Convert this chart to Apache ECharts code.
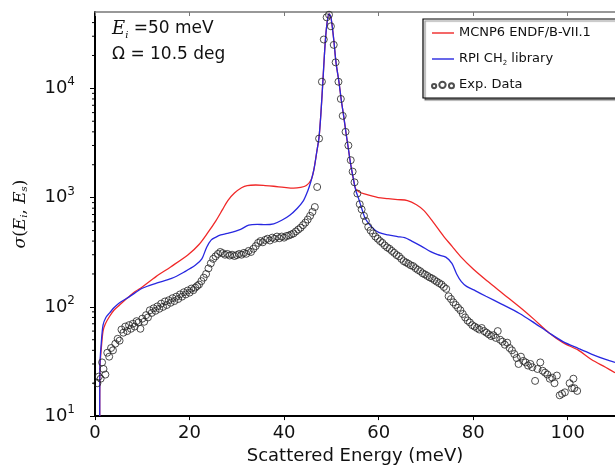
<!DOCTYPE html>
<html>
<head>
<meta charset="utf-8">
<script src="https://cdn.jsdelivr.net/npm/echarts@6/dist/echarts.min.js"></script>
<style>html,body{margin:0;padding:0;background:#fff}#c{width:615px;height:470px}</style>
</head>
<body>
<div id="c"></div>
<script>
// MCNP6 ENDF/B-VII.1 curve [E (meV), sigma]
var mcnpCurve = [[1.0,10],[1.05,28],[1.3,40],[1.7,60],[2.2,70],[3.1,82],[4.0,93],[5.2,104],[6.3,115],[7.3,125],[8.5,138],[10,152],[12.9,189],[16,232],[19.7,300],[22,372],[23.9,480],[25.6,616],[27,780],[28.1,940],[29.5,1100],[31,1230],[32.2,1290],[34,1305],[36,1290],[37.8,1270],[40,1240],[42,1220],[43.5,1240],[44.7,1290],[45.7,1450],[46.3,1800],[46.9,2600],[47.4,3600],[47.8,6000],[48.2,11500],[48.7,26300],[49.1,40000],[49.5,48000],[49.9,45000],[50.5,28000],[51.0,17000],[51.6,11500],[52.1,7800],[52.6,5600],[53.1,3900],[53.6,2800],[54.1,2000],[54.7,1450],[55.1,1210],[55.8,1130],[57,1080],[59.9,1000],[62,980],[64,960],[66.1,940],[68,860],[69.6,760],[71.5,600],[73.8,440],[75.5,360],[77.3,290],[80,222],[83,172],[86.3,132],[90.4,95],[93,76],[96,58],[99,47],[102.3,40],[105,33],[108,28],[110,25]];
// RPI CH2 library curve
var rpiCurve = [[1.0,10],[1.05,30],[1.3,45],[1.7,68],[2.3,80],[3.1,88],[4.0,98],[5.2,109],[7.3,124],[10,148],[13,165],[16.2,182],[19,210],[21.2,240],[22.6,275],[23.6,350],[24.6,410],[25.6,435],[26.6,455],[28,470],[30.8,513],[32.5,560],[34.3,570],[36,565],[37.8,575],[39.5,620],[41.2,690],[42.8,800],[44.1,940],[45,1150],[45.7,1420],[46.3,1800],[46.9,2600],[47.4,3600],[47.8,6000],[48.2,11500],[48.7,26300],[49.1,40000],[49.5,48000],[49.9,45000],[50.5,28000],[51.0,17000],[51.6,11500],[52.1,7800],[52.6,5600],[53.1,3900],[53.6,2800],[54.1,2000],[54.7,1450],[55.2,1150],[55.7,1000],[56.4,800],[57.2,640],[58.5,540],[60,480],[62,455],[64,440],[65.5,430],[67,400],[69,360],[71,320],[72.5,300],[74.2,285],[75.5,250],[76.5,200],[77.5,170],[78.6,154],[80.5,140],[82.7,125],[86,106],[89.8,87],[93,71],[96,58],[99,48],[102.3,41.5],[105,37],[108,33],[110,31]];
// Experimental data points
var expData = [[0.5,20],[0.8,23],[1.2,22],[1.5,31],[1.8,27],[2.2,24],[2.6,38],[3.0,35],[3.4,42],[3.8,40],[4.3,46],[4.8,51],[5.2,49],[5.6,62],[6.0,58],[6.4,66],[6.8,60],[7.2,68],[7.6,63],[8.0,70],[8.4,66],[8.8,74],[9.2,72],[9.6,63],[10.0,78],[10.4,73],[10.8,84],[11.2,80],[11.6,93],[12.0,88],[12.4,97],[12.8,92],[13.2,101],[13.6,96],[14.0,107],[14.4,100],[14.8,112],[15.2,104],[15.6,115],[16.0,109],[16.4,120],[16.8,113],[17.2,124],[17.6,118],[18.0,130],[18.4,124],[18.8,136],[19.2,130],[19.6,141],[20.0,135],[20.4,147],[20.8,142],[21.2,150],[21.6,155],[22.0,160],[22.5,172],[23.0,185],[23.5,200],[24.0,225],[24.5,250],[25.0,275],[25.5,290],[26.0,305],[26.5,318],[27.0,310],[27.5,300],[28.0,305],[28.5,295],[29.0,300],[29.5,292],[30.0,298],[30.5,305],[31.0,300],[31.5,312],[32.0,306],[32.5,325],[33.0,318],[33.5,340],[34.0,360],[34.5,385],[35.0,400],[35.5,390],[36.0,410],[36.5,420],[37.0,405],[37.5,430],[38.0,420],[38.5,440],[39.0,425],[39.5,440],[40.0,430],[40.5,445],[41.0,450],[41.5,460],[42.0,470],[42.5,490],[43.0,510],[43.5,530],[44.0,560],[44.5,590],[45.0,630],[45.5,680],[46.0,740],[46.5,820],[47.0,1250],[47.4,3470],[48.0,11500],[48.4,28000],[49.0,44700],[49.5,47200],[49.9,37000],[50.5,25000],[50.9,17300],[51.5,11500],[52.0,8000],[52.4,5600],[53.0,4000],[53.6,3000],[54.1,2200],[54.5,1730],[54.9,1380],[55.5,1090],[56.0,870],[56.4,780],[56.9,680],[57.3,610],[57.8,540],[58.3,500],[58.8,470],[59.3,440],[59.8,420],[60.3,400],[60.8,385],[61.3,365],[61.8,350],[62.3,340],[62.8,325],[63.3,312],[63.8,298],[64.3,290],[64.8,275],[65.3,262],[65.8,255],[66.3,248],[66.8,240],[67.3,236],[67.8,226],[68.3,218],[68.8,212],[69.3,203],[69.8,198],[70.3,192],[70.8,186],[71.3,182],[71.8,176],[72.3,170],[72.8,165],[73.3,160],[73.8,152],[74.3,146],[74.8,125],[75.3,118],[75.8,110],[76.3,104],[76.8,98],[77.3,93],[77.8,86],[78.3,80],[78.8,75],[79.3,72],[79.8,68],[80.3,66],[80.8,64],[81.3,62],[81.8,64],[82.3,60],[82.8,58],[83.3,56],[83.8,54],[84.3,55],[84.8,52],[85.2,60],[85.7,50],[86.2,48],[86.7,45],[87.2,47],[87.7,42],[88.2,40],[88.7,37],[89.2,34],[89.6,30],[90.1,35],[90.6,32],[91.1,31],[91.6,29],[92.1,30],[92.5,28],[93.1,21],[93.6,27],[94.2,31],[94.7,26],[95.2,25],[95.7,24],[96.2,22],[96.7,22.5],[97.2,20],[97.7,23.5],[98.3,15.5],[98.8,16],[99.4,16.5],[100.4,20],[100.9,18],[101.2,22],[101.4,18],[102,17]];
// Log-axis minor tick values
var minorTicks = [20,30,40,50,60,70,80,90,200,300,400,500,600,700,800,900,2000,3000,4000,5000,6000,7000,8000,9000,20000,30000,40000];
var seriesNames = ['MCNP6 ENDF/B-VII.1','RPI CH2 library','Exp. Data'];

var chart = echarts.init(document.getElementById('c'), null, {renderer:'canvas'});
var FONT = 'DejaVu Sans';
var LINE_ICON = 'path://M0,0L22,0L22,1.4L0,1.4Z';
var option = {
  animation:false,
  backgroundColor:'#fff',
  textStyle:{fontFamily:FONT},
  grid:{left:95, top:12, right:-9, bottom:49, containLabel:false},
  legend:{
    orient:'vertical', left:423, top:19,
    data:[{name:seriesNames[0], icon:LINE_ICON},{name:seriesNames[1], icon:LINE_ICON},{name:seriesNames[2], icon:'path://M0,6.5a1.6,1.6 0 1,0 3.2,0a1.6,1.6 0 1,0 -3.2,0zM5.5,5.6a2.4,2.4 0 1,0 4.8,0a2.4,2.4 0 1,0 -4.8,0zM12.8,6.3a1.9,1.9 0 1,0 3.8,0a1.9,1.9 0 1,0 -3.8,0z'}],
    itemWidth:22, itemHeight:14, itemGap:10,
    padding:[6,40,5,8],
    backgroundColor:'#fff', borderColor:'#000', borderWidth:1.2,
    shadowColor:'rgba(0,0,0,0.45)', shadowOffsetX:2, shadowOffsetY:2, shadowBlur:1,
    selectedMode:false,
    formatter:function(n){ return n===seriesNames[1] ? 'RPI CH{sub|2} library' : n; },
    textStyle:{fontFamily:FONT, fontSize:13, color:'#111', lineHeight:16,
      rich:{sub:{fontSize:7, verticalAlign:'bottom', lineHeight:12, fontFamily:FONT, color:'#111'}}}
  },
  xAxis:[{
    type:'value', min:0, max:110, interval:20, position:'bottom',
    name:'Scattered Energy (meV)', nameLocation:'middle', nameGap:30,
    nameTextStyle:{fontFamily:FONT, fontSize:18, color:'#111'},
    axisLine:{show:true, lineStyle:{color:'#000', width:2}},
    axisTick:{show:true, inside:false, length:4, lineStyle:{color:'#000', width:1}},
    axisLabel:{fontFamily:FONT, fontSize:18, color:'#111', margin:8, showMaxLabel:false},
    splitLine:{show:false}
  },{
    type:'value', min:0, max:110, interval:20, position:'top',
    axisLine:{show:true, lineStyle:{color:'#777', width:1.5}},
    axisTick:{show:true, inside:true, length:4, lineStyle:{color:'#777', width:1}},
    axisLabel:{show:false}, splitLine:{show:false}
  }],
  yAxis:{
    type:'log', logBase:10, min:10, max:50000,
    name:'{s|σ}{p|(}{e|E}{b|i}{p|,}{e| E}{b|s}{p|)}', nameLocation:'middle', nameGap:66,
    nameTextStyle:{rich:{
      s:{fontFamily:'DejaVu Serif', fontStyle:'italic', fontSize:17, color:'#111'},
      p:{fontFamily:'DejaVu Serif', fontSize:17, color:'#111'},
      e:{fontFamily:'DejaVu Serif', fontStyle:'italic', fontSize:17, color:'#111'},
      b:{fontFamily:'DejaVu Serif', fontStyle:'italic', fontSize:10, verticalAlign:'bottom', lineHeight:14, color:'#111'}
    }},
    axisLine:{show:true, lineStyle:{color:'#000', width:2}},
    axisTick:{show:true, inside:false, length:5, lineStyle:{color:'#000', width:1}},
    axisLabel:{margin:20, showMaxLabel:false,
      formatter:function(v){ var e=Math.round(Math.log(v)/Math.LN10); return '{b|10}{s|'+e+'}'; },
      rich:{
        b:{fontFamily:FONT, fontSize:18, color:'#111', lineHeight:24},
        s:{fontFamily:FONT, fontSize:12, color:'#111', verticalAlign:'top', lineHeight:24}
      }},
    splitLine:{show:false}
  },
  graphic:[{
    type:'text', left:112, top:20, z:10,
    style:{
      text:'{e|E}{i|i}{t| =50 meV}',
      rich:{
        e:{fontFamily:'DejaVu Serif', fontStyle:'italic', fontSize:18, fill:'#111', lineHeight:22},
        i:{fontFamily:'DejaVu Serif', fontStyle:'italic', fontSize:10, fill:'#111', verticalAlign:'bottom', lineHeight:18},
        t:{fontFamily:FONT, fontSize:17, fill:'#111', lineHeight:22}
      }
    }
  },{
    type:'text', left:112, top:46, z:10,
    style:{text:'Ω = 10.5 deg', font:'17px "DejaVu Sans"', fill:'#111'}
  }],
  series:[{
    name:seriesNames[0], type:'line', data:mcnpCurve, symbol:'none', smooth:0.3,
    lineStyle:{color:'#f02828', width:1.3}, itemStyle:{color:'#f02828'}, z:2
  },{
    name:seriesNames[1], type:'line', data:rpiCurve, symbol:'none', smooth:0.3,
    lineStyle:{color:'#2828e0', width:1.3}, itemStyle:{color:'#2828e0'}, z:3
  },{
    name:seriesNames[2], type:'scatter', data:expData, symbol:'circle', symbolSize:7,
    itemStyle:{color:'rgba(255,255,255,0)', borderColor:'#222', borderWidth:1}, z:4
  },{
    name:'minor', type:'custom', data:minorTicks.map(function(v){return [0,v];}), silent:true, clip:false, z:5,
    renderItem:function(params, api){
      var p = api.coord([0, api.value(1)]);
      return {type:'line', shape:{x1:p[0]-3, y1:p[1], x2:p[0], y2:p[1]}, style:{stroke:'#000', lineWidth:1}};
    }
  }]
};
chart.setOption(option);
</script>
</body>
</html>
